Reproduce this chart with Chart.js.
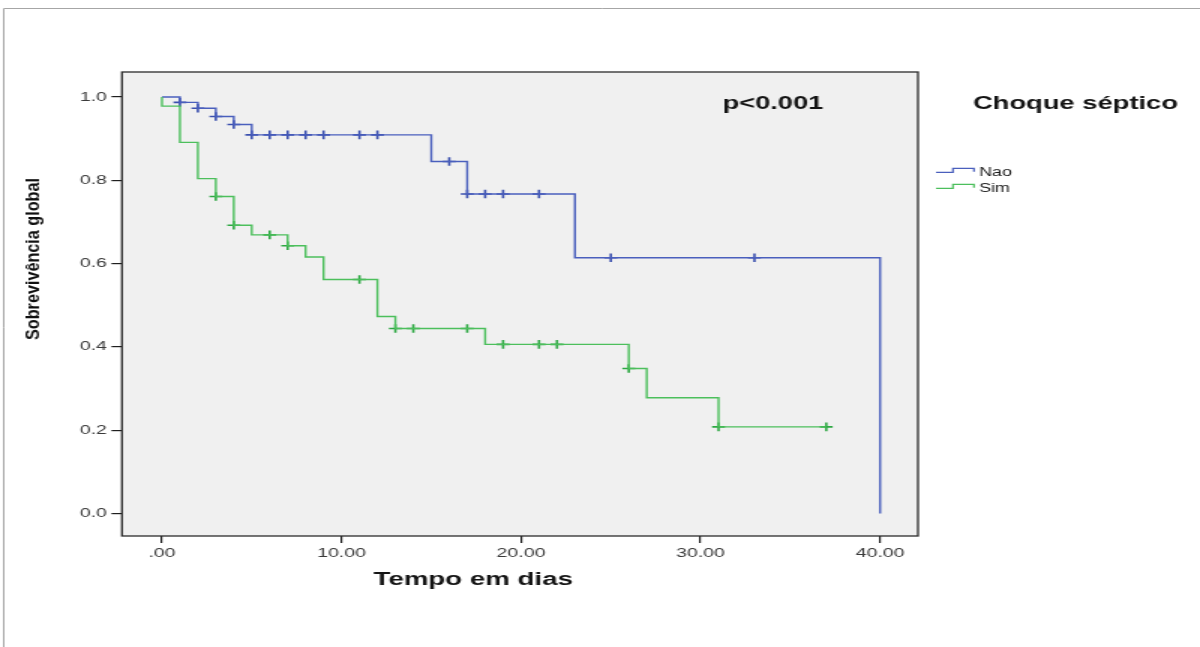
<!DOCTYPE html>
<html lang="pt">
<head>
<meta charset="utf-8">
<title>Sobrevivência global por choque séptico</title>
<script src="https://cdn.jsdelivr.net/npm/chart.js@4.4.1/dist/chart.umd.min.js"></script>
<style>
  html, body { margin: 0; padding: 0; background: #ffffff; overflow: hidden; }
  /* the figure is laid out 800 px wide and shown stretched to 1200 px */
  #stage { width: 800px; height: 647px; transform: scaleX(1.5); transform-origin: 0 0; }
  #km { display: block; }
</style>
</head>
<body>
<div id="stage"><canvas id="km" width="800" height="647"></canvas></div>
<script>
// Kaplan–Meier curves: overall survival by septic shock status
const groups = ['Nao', 'Sim'];

// "Nao" group: event times and survival after each step
const naoTimes    = [0, 1, 2, 3, 4, 5, 15, 17, 23, 40];
const naoSurvival = [1.0, 0.987, 0.973, 0.953, 0.934, 0.909, 0.845, 0.767, 0.614, 0.0];
// "Nao" censored observations
const naoCensorTimes    = [1, 2, 3, 4, 5, 6, 7, 8, 9, 11, 12, 16, 17, 18, 19, 21, 25, 33];
const naoCensorSurvival = [0.987, 0.973, 0.953, 0.934, 0.909, 0.909, 0.909, 0.909, 0.909, 0.909, 0.909,
                           0.845, 0.767, 0.767, 0.767, 0.767, 0.614, 0.614];

// "Sim" group: event times and survival after each step
const simTimes    = [0, 0, 1, 2, 3, 4, 5, 7, 8, 9, 12, 13, 18, 26, 27, 31, 37];
const simSurvival = [1.0, 0.978, 0.891, 0.804, 0.761, 0.692, 0.669, 0.643, 0.616, 0.562,
                     0.473, 0.444, 0.406, 0.348, 0.278, 0.208, 0.208];
// "Sim" censored observations
const simCensorTimes    = [3, 4, 6, 7, 11, 13, 14, 17, 19, 21, 22, 26, 31, 37];
const simCensorSurvival = [0.761, 0.692, 0.669, 0.643, 0.562, 0.444, 0.444, 0.444,
                           0.406, 0.406, 0.406, 0.348, 0.208, 0.208];

// axis ticks
const xTickValues = [0, 10, 20, 30, 40];
const xTickLabels = ['.00', '10.00', '20.00', '30.00', '40.00'];
const yTickValues = [0, 0.2, 0.4, 0.6, 0.8, 1.0];
const yTickLabels = ['0.0', '0.2', '0.4', '0.6', '0.8', '1.0'];

const xTitle = 'Tempo em dias';
const yTitle = 'Sobrevivência global';
const legendTitle = 'Choque séptico';
const pValueText = 'p<0.001';

const BLUE = '#4a5fbd';
const GREEN = '#4cbf5c';
const BLUE_MARK = '#3a4fae';
const GREEN_MARK = '#2ea843';
const FONT = "'Liberation Sans', Arial, Helvetica, sans-serif";

function toPoints(xs, ys) {
  return xs.map((x, i) => ({ x: x, y: ys[i] }));
}

// draws text squeezed/stretched so that it spans a given length
function fitText(ctx, text, cx, cy, length, font, color, rotated) {
  ctx.save();
  ctx.font = font;
  ctx.fillStyle = color;
  ctx.textAlign = 'center';
  ctx.textBaseline = 'middle';
  const w = ctx.measureText(text).width;
  ctx.translate(cx, cy);
  if (rotated) ctx.rotate(-Math.PI / 2);
  ctx.scale(length / w, 1);
  ctx.fillText(text, 0, 0);
  ctx.restore();
}

const decor = {
  id: 'decor',
  beforeDraw(chart) {
    const { ctx, chartArea: a } = chart;
    ctx.save();
    ctx.fillStyle = '#ffffff';
    ctx.fillRect(0, 0, chart.width, chart.height);
    // outer page frame
    ctx.strokeStyle = '#a6a6a6';
    ctx.lineWidth = 1;
    ctx.beginPath();
    ctx.moveTo(2.5, chart.height);
    ctx.lineTo(2.5, 8.5);
    ctx.lineTo(chart.width, 8.5);
    ctx.stroke();
    // plot background
    ctx.fillStyle = '#f0f0f0';
    ctx.fillRect(a.left, a.top, a.right - a.left, a.bottom - a.top);
    ctx.restore();
  },
  afterDraw(chart) {
    const { ctx, chartArea: a } = chart;
    ctx.save();
    // plot frame
    ctx.strokeStyle = '#2b2b2b';
    ctx.lineWidth = 1.3;
    ctx.strokeRect(a.left, a.top, a.right - a.left, a.bottom - a.top);

    // axis titles and annotations
    fitText(ctx, yTitle, 22.3, 259, 162, 'bold 13.5px ' + FONT, '#101010', true);
    fitText(ctx, xTitle, 315.5, 580, 133, 'bold 18px ' + FONT, '#141414', false);
    fitText(ctx, pValueText, 515.3, 104, 67, 'bold 18px ' + FONT, '#141414', false);
    fitText(ctx, legendTitle, 717, 104, 136.7, 'bold 18px ' + FONT, '#141414', false);

    // legend entries with step symbols
    const colors = [BLUE, GREEN];
    groups.forEach((name, i) => {
      const y0 = 172.3 + i * 16;
      ctx.strokeStyle = colors[i];
      ctx.lineWidth = 1.2;
      ctx.beginPath();
      ctx.moveTo(624, y0);
      ctx.lineTo(635.3, y0);
      ctx.lineTo(635.3, y0 - 4);
      ctx.lineTo(649.3, y0 - 4);
      ctx.lineTo(649.3, y0 - 0.6);
      ctx.stroke();
      ctx.font = '12px ' + FONT;
      ctx.fillStyle = '#1a1a1a';
      ctx.textAlign = 'left';
      ctx.textBaseline = 'alphabetic';
      ctx.fillText(name, 652.7, y0 + 3.8);
    });
    ctx.restore();
  }
};

new Chart(document.getElementById('km'), {
  type: 'line',
  data: {
    datasets: [
      {
        label: groups[1],
        data: toPoints(simTimes, simSurvival),
        borderColor: GREEN,
        borderWidth: 1.4,
        stepped: 'before',
        pointRadius: 0,
        fill: false
      },
      {
        label: groups[0],
        data: toPoints(naoTimes, naoSurvival),
        borderColor: BLUE,
        borderWidth: 1.4,
        stepped: 'before',
        pointRadius: 0,
        fill: false
      },
      {
        label: groups[1] + ' censurado',
        data: toPoints(simCensorTimes, simCensorSurvival),
        showLine: false,
        pointStyle: 'cross',
        pointRadius: 4.3,
        pointBorderWidth: 1.6,
        pointBorderColor: GREEN_MARK,
        borderColor: GREEN_MARK
      },
      {
        label: groups[0] + ' censurado',
        data: toPoints(naoCensorTimes, naoCensorSurvival),
        showLine: false,
        pointStyle: 'cross',
        pointRadius: 4.3,
        pointBorderWidth: 1.6,
        pointBorderColor: BLUE_MARK,
        borderColor: BLUE_MARK
      }
    ]
  },
  options: {
    responsive: false,
    animation: false,
    devicePixelRatio: 1,
    layout: { padding: { left: 0, top: 72, right: 188, bottom: 0 } },
    plugins: {
      legend: { display: false },
      tooltip: { enabled: false },
      title: { display: false }
    },
    scales: {
      x: {
        type: 'linear',
        min: -2.23,
        max: 42.11,
        afterFit: s => { s.height = 111; },
        afterBuildTicks: s => { s.ticks = xTickValues.map(v => ({ value: v })); },
        border: { display: false },
        grid: { drawOnChartArea: false, drawTicks: true, tickLength: 7, color: '#1e1e1e', lineWidth: 1.2 },
        ticks: {
          autoSkip: false,
          maxRotation: 0,
          padding: 3,
          color: '#3a3a3a',
          font: { family: FONT, size: 13 },
          callback: (v, i) => xTickLabels[i]
        }
      },
      y: {
        type: 'linear',
        min: -0.054,
        max: 1.060,
        afterFit: s => { s.width = 81.3; },
        afterBuildTicks: s => { s.ticks = yTickValues.map(v => ({ value: v })); },
        border: { display: false },
        grid: { drawOnChartArea: false, drawTicks: true, tickLength: 7, color: '#1e1e1e', lineWidth: 1.2 },
        ticks: {
          autoSkip: false,
          padding: 3,
          color: '#3a3a3a',
          font: { family: FONT, size: 13 },
          callback: (v, i) => yTickLabels[i]
        }
      }
    }
  },
  plugins: [decor]
});
</script>
</body>
</html>
